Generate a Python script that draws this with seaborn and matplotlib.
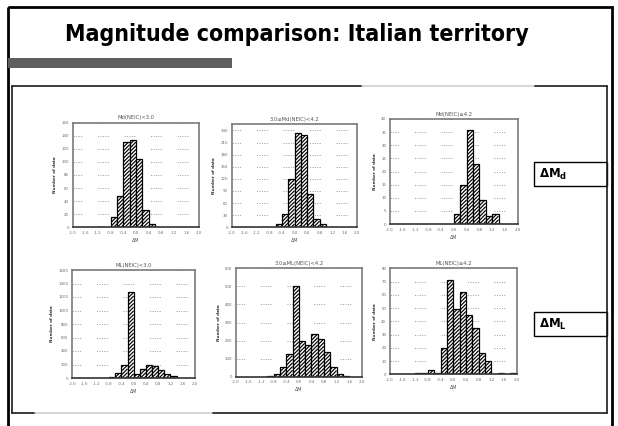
import numpy as np
import pandas as pd
import matplotlib
matplotlib.use("Agg")
import matplotlib.pyplot as plt
from matplotlib.patches import Rectangle
from matplotlib.lines import Line2D
from matplotlib.collections import LineCollection
import seaborn as sns

# ---- histogram data: left edge of each 0.2-wide ΔM bin and its count ----
md_lt30_left = [-1.4, -1.2, -0.8, -0.6, -0.4, -0.2, 0.0, 0.2, 0.4]
md_lt30_count = [1, 1, 15, 48, 130, 133, 104, 27, 5]

md_30_42_left = [-0.6, -0.4, -0.2, 0.0, 0.2, 0.4, 0.6, 0.8]
md_30_42_count = [8, 34, 120, 233, 229, 83, 21, 7]

md_ge42_left = [0.0, 0.2, 0.4, 0.6, 0.8, 1.0, 1.2]
md_ge42_count = [4, 15, 36, 23, 9, 3, 4]

ml_lt30_left = [-0.8, -0.6, -0.4, -0.2, 0.0, 0.2, 0.4, 0.6, 0.8, 1.0, 1.2]
ml_lt30_count = [20, 80, 200, 1270, 55, 130, 200, 185, 115, 55, 25]

ml_30_42_left = [-1.0, -0.8, -0.6, -0.4, -0.2, 0.0, 0.2, 0.4, 0.6, 0.8, 1.0, 1.2, 1.4]
ml_30_42_count = [6, 13, 52, 126, 504, 196, 176, 237, 211, 137, 54, 13, 5]

ml_ge42_left = [-1.2, -1.0, -0.8, -0.6, -0.4, -0.2, 0.0, 0.2, 0.4, 0.6, 0.8, 1.0, 1.4, 1.8]
ml_ge42_count = [1, 1, 3, 1, 20, 71, 49, 62, 45, 35, 16, 10, 1, 1]

panel_titles = ["Md(NEIC)<3.0", "3.0≤Md(NEIC)<4.2", "Md(NEIC)≥4.2",
                "ML(NEIC)<3.0", "3.0≤ML(NEIC)<4.2", "ML(NEIC)≥4.2"]
x_ticks = [-2.0, -1.6, -1.2, -0.8, -0.4, 0.0, 0.4, 0.8, 1.2, 1.6, 2.0]
y_tick_sets = [list(range(0, 161, 20)), list(range(0, 241, 30)), list(range(0, 41, 5)),
               list(range(0, 1601, 200)), list(range(0, 601, 100)), list(range(0, 81, 10))]
y_tops = [160, 256, 40, 1600, 600, 80]
slide_title = "Magnitude comparison: Italian territory"
row_labels = [r"$\mathbf{\Delta M_d}$", r"$\mathbf{\Delta M_L}$"]

BIN = 0.2
W, H = 618, 426
HATCH_STEP = 3.7   # spacing of the diagonal hatch strokes, pixels

sns.set_style("white")
plt.rcParams["font.family"] = ["DejaVu Sans"]
plt.rcParams["lines.scale_dashes"] = False

fig = plt.figure(figsize=(W / 100, H / 100), dpi=100)
fig.patch.set_facecolor("white")

# slide canvas in pixel coordinates
bg = fig.add_axes([0, 0, 1, 1], zorder=0)
bg.set_xlim(0, W)
bg.set_ylim(H, 0)
bg.axis("off")

bg.add_patch(Rectangle((7.5, 7), 604.5, 430, fill=False, edgecolor="black", linewidth=2.0))
bg.text(65, 41.5, slide_title, fontsize=16.6, fontweight="bold", color="black",
        va="baseline", ha="left", fontstretch="condensed")
bg.add_patch(Rectangle((8, 58), 224, 10, facecolor="#5f5f5f", edgecolor="none"))

# inner content box
dark, light = "#1a1a1a", "#cfcfcf"
top_y, bot_y = 86, 413
bg.add_line(Line2D([12, 362], [top_y, top_y], color=dark, lw=1.2))
bg.add_line(Line2D([362, 535], [top_y, top_y], color=light, lw=1.2))
bg.add_line(Line2D([535, 607], [top_y, top_y], color=dark, lw=1.2))
bg.add_line(Line2D([12, 12], [top_y, bot_y], color=dark, lw=1.2))
bg.add_line(Line2D([607, 607], [top_y, bot_y], color=dark, lw=1.2))
bg.add_line(Line2D([12, 35], [bot_y, bot_y], color=dark, lw=1.2))
bg.add_line(Line2D([35, 213], [bot_y, bot_y], color=light, lw=1.2))
bg.add_line(Line2D([213, 607], [bot_y, bot_y], color=dark, lw=1.2))

# row label boxes
for (y0, lab) in zip([162, 312], row_labels):
    bg.add_patch(Rectangle((534, y0), 73, 24, fill=False, edgecolor="black", linewidth=1.0))
    bg.text(539, y0 + 12.5, lab, fontsize=8.5, va="center", ha="left", color="black")

# plot-area rectangles (pixels): left, right, top, bottom
boxes = [(72.7, 199.3, 122.7, 227.3), (231.7, 357.3, 124.0, 227.3), (390.0, 517.7, 119.0, 224.0),
         (72.3, 195.0, 270.0, 378.0), (236.0, 361.7, 268.3, 376.7), (390.0, 516.7, 268.3, 374.3)]
series = [(md_lt30_left, md_lt30_count), (md_30_42_left, md_30_42_count),
          (md_ge42_left, md_ge42_count), (ml_lt30_left, ml_lt30_count),
          (ml_30_42_left, ml_30_42_count), (ml_ge42_left, ml_ge42_count)]

# dotted gridlines broken into short runs
grid_dash = (1.5, [0.75, 1.0] * 4 + [0.75, 11.35])


def hatch_bar(ax, patch, step):
    """Diagonal '/' strokes inside one bar, clipped to the bar outline."""
    bb = patch.get_window_extent()
    inv = ax.transData.inverted()
    c0 = np.floor((bb.y0 - bb.x1) / step) * step
    segs = []
    for c in np.arange(c0, bb.y1 - bb.x0 + step, step):
        pts = np.array([[bb.x0, bb.x0 + c], [bb.x1, bb.x1 + c]])
        segs.append(inv.transform(pts))
    lc = LineCollection(segs, colors="black", linewidths=0.85,
                        transform=ax.transData, zorder=patch.get_zorder() + 0.1)
    ax.add_collection(lc, autolim=False)
    lc.set_clip_path(patch)


for i, ((l, r, t, b), (lefts, counts)) in enumerate(zip(boxes, series)):
    ax = fig.add_axes([l / W, 1 - b / H, (r - l) / W, (b - t) / H], zorder=2)
    df = pd.DataFrame({"dm": np.array(lefts) + BIN / 2, "n": counts})
    sns.histplot(data=df, x="dm", weights="n", binwidth=BIN, binrange=(-2.0, 2.0), ax=ax,
                 color="white", edgecolor="black", linewidth=0.9, alpha=1.0)
    ax.set_xlim(-2.0, 2.0)
    ax.set_ylim(0, y_tops[i])
    bars = [p for p in ax.patches]
    for p in bars:
        if p.get_height() <= 0:
            p.set_visible(False)
        else:
            p.set_facecolor("white")
            p.set_edgecolor("black")
            hatch_bar(ax, p, HATCH_STEP)
    ax.set_xticks(x_ticks)
    ax.set_xticklabels([f"{v:.1f}" for v in x_ticks])
    ax.set_yticks(y_tick_sets[i])
    ax.tick_params(axis="both", labelsize=2.8, labelcolor="#6a6a6a", length=1.2,
                   width=0.4, color="#888888", pad=1.5, direction="out")
    for yv in y_tick_sets[i][1:]:
        ax.axhline(yv, color="#8f8f8f", lw=0.6, ls=grid_dash, zorder=0)
    for s in ax.spines.values():
        s.set_color("#7a7a7a")
        s.set_linewidth(1.2)
    ax.spines["bottom"].set_color("#333333")
    ax.set_title(panel_titles[i], fontsize=3.8, color="#555555", pad=2.5)
    ax.set_xlabel("ΔM", fontsize=3.4, color="#555555", labelpad=2)
    ax.set_ylabel("Number of data", fontsize=3.0, color="#333333",
                  fontweight="bold", labelpad=3)

fig.savefig("out.png", dpi=100, facecolor="white")
